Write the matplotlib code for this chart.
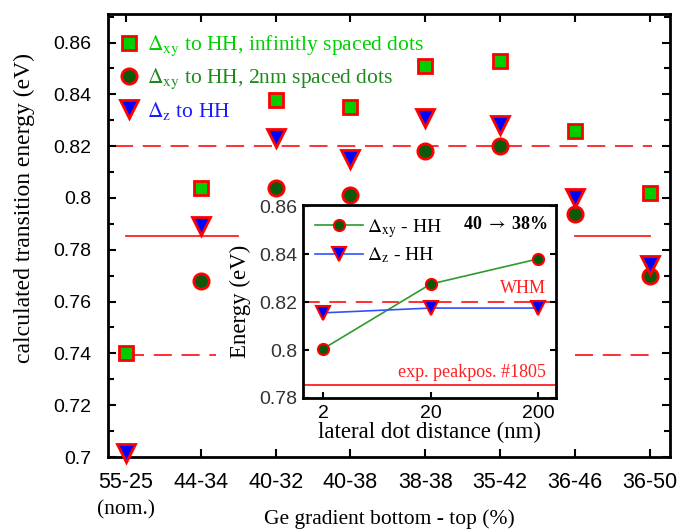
import numpy as np
import matplotlib
matplotlib.use("Agg")
import matplotlib.pyplot as plt
from matplotlib.ticker import MultipleLocator, FixedLocator, NullLocator

plt.rcParams['font.family'] = 'Liberation Sans'
plt.rcParams['mathtext.fontset'] = 'stix'
plt.rcParams['lines.scale_dashes'] = False

# main chart data
gradients = ['55-25', '44-34', '40-32', '40-38', '38-38', '35-42', '36-46', '36-50']
dxy_inf = [0.740, 0.804, 0.838, 0.835, 0.851, 0.853, 0.826, 0.802]
dxy_2nm = [np.nan, 0.768, 0.804, 0.801, 0.818, 0.820, 0.794, 0.770]
dz_hh = [0.7015, 0.789, 0.823, 0.815, 0.831, 0.828, 0.800, 0.774]

whm_top = 0.82
whm_bottom = 0.7395
exp_peak = 0.7855

# inset data
distance = [2, 20, 200]
inset_dxy = [0.8005, 0.8275, 0.838]
inset_dz = [0.8155, 0.8175, 0.8175]

serif = 'Liberation Serif'
red = '#ff2020'

fig = plt.figure(figsize=(6.78, 5.30), dpi=100)
ax = fig.add_axes([0.1593, 0.1377, 0.8289, 0.8358])

x = np.arange(len(gradients))

# reference lines
ax.plot([-0.15, 7.03], [whm_top, whm_top], color=red, lw=1.3, dashes=(13, 7), zorder=1)
ax.plot([0, 1.2], [whm_bottom, whm_bottom], color=red, lw=1.3, dashes=(13, 7), zorder=1)
ax.plot([6, 7.03], [whm_bottom, whm_bottom], color=red, lw=1.3, dashes=(13, 7), zorder=1)
ax.plot([0, 1.5], [exp_peak, exp_peak], color=red, lw=1.3, zorder=1)
ax.plot([6, 7], [exp_peak, exp_peak], color=red, lw=1.3, zorder=1)

ax.plot(x, dxy_inf, ls='none', marker='s', ms=10, mfc='#00cc00', mec='#ff0000', mew=2,
        label=r'$\Delta_{\mathrm{xy}}$ to HH, infinitly spaced dots', zorder=3)
ax.plot(x, dxy_2nm, ls='none', marker='o', ms=11, mfc='#0a5a0a', mec='#ff0000', mew=2,
        label=r'$\Delta_{\mathrm{xy}}$ to HH, 2nm spaced dots', zorder=3)
ax.plot(x, dz_hh, ls='none', marker='v', ms=13, mfc='#0000ff', mec='#ff0000', mew=2,
        label=r'$\Delta_{\mathrm{z}}$ to HH', zorder=4, clip_on=False)

leg = ax.legend(loc='upper left', frameon=False, prop={'family': serif, 'size': 15.5},
                labelcolor=['#00d000', '#1e8a1e', '#1a1aff'], handletextpad=0.2,
                borderaxespad=0.2, labelspacing=0.4, handlelength=1.2,
                bbox_to_anchor=(-0.008, 0.985))

ax.set_xlim(-0.24, 7.27)
ax.set_ylim(0.7, 0.871)
ax.set_xticks(x)
ax.set_xticklabels(gradients, fontsize=15.5)
ax.yaxis.set_minor_locator(MultipleLocator(0.01))
ax.set_yticks([0.7, 0.72, 0.74, 0.76, 0.78, 0.8, 0.82, 0.84, 0.86])
ax.set_yticklabels(['0.7', '0.72', '0.74', '0.76', '0.78', '0.8', '0.82', '0.84', '0.86'], fontsize=14)
ax.tick_params(which='both', direction='in', top=True, right=True, width=1.5)
ax.tick_params(which='major', length=6)
ax.tick_params(axis='y', which='major', pad=12)
ax.tick_params(axis='x', which='major', pad=11)
ax.tick_params(which='minor', length=4)
for s in ax.spines.values():
    s.set_linewidth(2)

ax.text(0, -0.12, '(nom.)', transform=ax.get_xaxis_transform(), ha='center', va='center',
        family=serif, fontsize=15.5)
ax.set_xlabel('Ge gradient bottom - top (%)', family=serif, fontsize=15.5)
ax.xaxis.set_label_coords(0.5, -0.14)
ax.xaxis.label.set_verticalalignment('center')
ax.set_ylabel('calculated transition energy (eV)', family=serif, fontsize=17)
ax.yaxis.set_label_coords(-0.148, 0.562)
ax.yaxis.label.set_verticalalignment('center')

# inset
ins = fig.add_axes([0.4469, 0.2491, 0.3732, 0.3642], zorder=5)
ins.set_facecolor('white')
ins.axhline(whm_top, color=red, lw=1.3, dashes=(12, 7), zorder=1)
ins.axhline(exp_peak, color=red, lw=1.3, zorder=1)
ins.plot(distance, inset_dxy, color='#2e9a2e', lw=1.2, marker='o', ms=8, mfc='#0a5a0a',
         mec='#ff0000', mew=1.5, label=r'$\Delta_{\mathrm{xy}}$ - HH', zorder=3)
ins.plot(distance, inset_dz, color='#3050ff', lw=1.2, marker='v', ms=10, mfc='#0000ff',
         mec='#ff0000', mew=1.5, label=r'$\Delta_{\mathrm{z}}$ - HH', zorder=3)
ins.set_xscale('log')
ins.set_xlim(1.3, 294)
ins.set_ylim(0.78, 0.8605)
ins.xaxis.set_major_locator(FixedLocator(distance))
ins.xaxis.set_minor_locator(NullLocator())
ins.set_xticklabels(['2', '20', '200'], fontsize=14)
ins.set_yticks([0.78, 0.8, 0.82, 0.84, 0.86])
ins.set_yticklabels(['0.78', '0.8', '0.82', '0.84', '0.86'], fontsize=14, color='#333333')
ins.tick_params(direction='in', right=True, length=4, width=1.5, pad=4)
ins.tick_params(axis='x', length=4, pad=5)
for s in ins.spines.values():
    s.set_linewidth(2)
ins.legend(loc='upper left', frameon=False, prop={'family': serif, 'size': 14},
           handlelength=2.5, handletextpad=0.2, labelspacing=0.3, borderaxespad=0.2)
ins.text(0.97, 0.9, r'40 $\rightarrow$ 38%', transform=ins.transAxes, ha='right', va='center',
         family=serif, fontsize=13, fontweight='bold')
ins.text(0.96, 0.822, 'WHM', color=red, ha='right', va='bottom', family=serif, fontsize=13,
         transform=ins.get_yaxis_transform())
ins.text(0.96, 0.787, 'exp. peakpos. #1805', color=red, ha='right', va='bottom', family=serif,
         fontsize=13, transform=ins.get_yaxis_transform())
ins.set_xlabel('lateral dot distance (nm)', family=serif, fontsize=16.5)
ins.xaxis.set_label_coords(0.5, -0.18)
ins.xaxis.label.set_verticalalignment('center')
ins.set_ylabel('Energy (eV)', family=serif, fontsize=16.5, labelpad=6)

fig.savefig('out.png', dpi=100)
